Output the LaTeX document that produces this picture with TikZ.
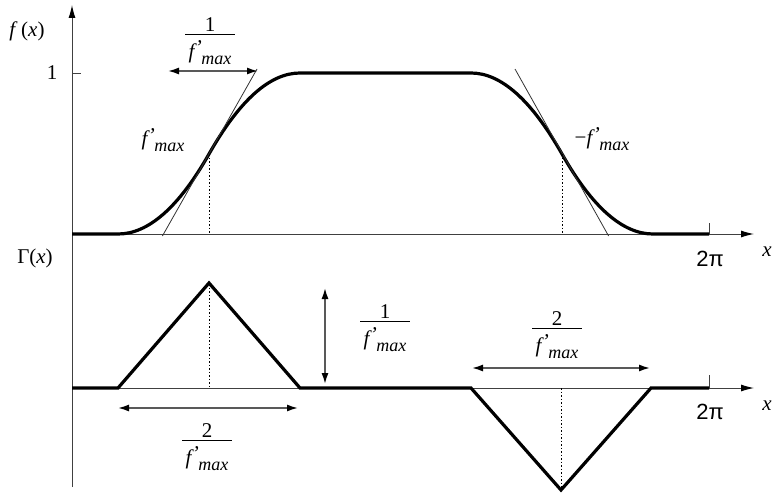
\documentclass[tikz,border=0pt]{standalone}
\usepackage{fontspec}
\setmainfont{Liberation Serif}
\newfontfamily\sansf{Liberation Sans}
\usetikzlibrary{arrows.meta}
\newcommand{\fmx}{{\itshape f\kern0.5pt\raisebox{0.15em}{'}\kern-0.5pt\raisebox{-0.3em}{\fontsize{18}{18}\selectfont max}}}
\newcommand{\frc}[2]{{\setlength{\arrayrulewidth}{1pt}\begin{tabular}{@{\,}c@{\,}}#1\\[-4pt]\hline\noalign{\vskip6pt}#2\end{tabular}}}
\begin{document}
\begin{tikzpicture}[x=1pt,y=-1pt,
  lbl/.style={inner sep=0pt, font=\fontsize{21}{23}\selectfont},
  bigl/.style={inner sep=0pt, font=\sansf\fontsize{22}{24}\selectfont},
  axisline/.style={line width=1pt, draw=black!75, -{Latex[length=13pt,width=7pt,black]}},
  curve/.style={line width=3.2pt},
  tang/.style={line width=0.8pt, black!80},
  dots/.style={line width=1pt, dash pattern=on 1.5pt off 2pt},
  dimarr/.style={line width=1.6pt, black!65, {Latex[length=11pt,width=7pt,black]}-{Latex[length=11pt,width=7pt,black]}},
  tickl/.style={line width=1pt, black!75}]
\useasboundingbox (0,0) rectangle (773,495);
% axes
\coordinate (O) at (72,487);
\coordinate (ytop) at (72,5);
\coordinate (xa0) at (72,234);
\coordinate (xa1) at (754,234);
\coordinate (xb0) at (72,388);
\coordinate (xb1) at (754,388);
\draw[axisline] (O) -- (ytop);
\draw[axisline] (xa0) -- (xa1);
\draw[axisline] (xb0) -- (xb1);
% ticks
\coordinate (t1a) at (72,73); \coordinate (t1b) at (81,73);
\draw[tickl] (t1a) -- (t1b);
\coordinate (tpa) at (709,223); \coordinate (tpb) at (709,234);
\draw[tickl] (tpa) -- (tpb);
\coordinate (tqa) at (709,375); \coordinate (tqb) at (709,388);
\draw[tickl] (tqa) -- (tqb);
% f curve
\draw[curve] (72,234) -- (118,234)
  .. controls (148.33,234) and (178.67,207.33) .. (209,154)
  .. controls (239.33,100.67) and (269.67,73) .. (300,73)
  -- (471,73)
  .. controls (501.33,73) and (531.67,100.67) .. (562,154)
  .. controls (592.33,207.33) and (622.67,234) .. (653,234)
  -- (709,234);
% tangents
\coordinate (ta0) at (162.4,236); \coordinate (ta1) at (257,69);
\draw[tang] (ta0) -- (ta1);
\coordinate (tb0) at (515,69); \coordinate (tb1) at (608.6,236);
\draw[tang] (tb0) -- (tb1);
% dotted verticals
\coordinate (da0) at (209,154); \coordinate (da1) at (209,234);
\draw[dots] (da0) -- (da1);
\coordinate (db0) at (562,154); \coordinate (db1) at (562,234);
\draw[dots] (db0) -- (db1);
\coordinate (dc0) at (209,284); \coordinate (dc1) at (209,388);
\draw[dots] (dc0) -- (dc1);
\coordinate (dd0) at (561,388); \coordinate (dd1) at (561,490);
\draw[dots] (dd0) -- (dd1);
% Gamma
\draw[curve] (72,388) -- (118,388) -- (209,283) -- (300,388) -- (471,388) -- (561,490) -- (651,388) -- (709,388);
% dimension arrows
\coordinate (a1l) at (168,71); \coordinate (a1r) at (258,71);
\draw[dimarr] (a1l) -- (a1r);
\coordinate (a2t) at (325,288); \coordinate (a2b) at (325,384);
\draw[dimarr] (a2t) -- (a2b);
\coordinate (a3l) at (118,408); \coordinate (a3r) at (298,408);
\draw[dimarr] (a3l) -- (a3r);
\coordinate (a4l) at (472,368); \coordinate (a4r) at (650,368);
\draw[dimarr] (a4l) -- (a4r);
% labels
\node[lbl] (fx) at (27,31) {\textit{f}\,(\textit{x})};
\node[lbl] (one) at (52,73) {1};
\node[lbl] (gx) at (35,258) {Γ(\textit{x})};
\node[lbl] (xa) at (767,252) {\textit{x}};
\node[lbl] (xb) at (767,406) {\textit{x}};
\node[bigl] (pa) at (710,259) {2π};
\node[bigl] (pb) at (710,412) {2π};
\node[lbl] (fr1) at (210,40) {\frc{1}{\fmx}};
\node[lbl] (fr2) at (385,327) {\frc{1}{\fmx}};
\node[lbl] (fr3) at (207,446) {\frc{2}{\fmx}};
\node[lbl] (fr4) at (557,334) {\frc{2}{\fmx}};
\node[lbl] (s1) at (163,140) {\fmx};
\node[lbl] (s2) at (602,139) {−\fmx};
\end{tikzpicture}
\end{document}
